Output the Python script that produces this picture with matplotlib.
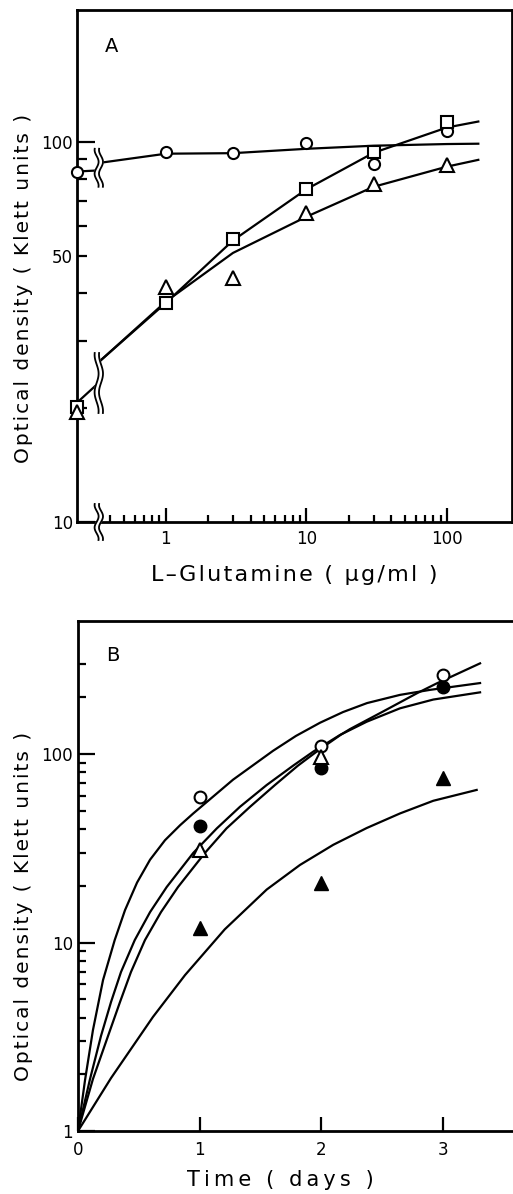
import numpy as np
import matplotlib.pyplot as plt
from matplotlib.ticker import FixedLocator, FixedFormatter, NullFormatter

# ----------------------------------------------------------------------
# Panel A: growth vs L-glutamine concentration
# ----------------------------------------------------------------------
GLN_CONC = [0, 1, 3, 10, 30, 100]
A_CIRCLE = [83, 94, 93.5, 99.5, 87.5, 107]
A_SQUARE = [20.1, 37.7, 55.6, 75.2, 94, 113]
A_TRIANGLE = [19.5, 41.6, 43.8, 65, 77.5, 87]

# hand-drawn curves, right of the axis break
A_FIT_X = [0.339, 1, 3, 10, 30, 100, 167]
A_CIRCLE_FIT = [88, 93, 93.3, 95.8, 97.6, 98.6, 98.8]
A_SQUARE_FIT = [26.5, 37.7, 55, 75, 93.5, 109, 113]
A_TRIANGLE_FIT = [26.5, 38, 51, 63.5, 76.1, 86, 89.6]
# short pieces left of the break
A_LEFT_X = [0, 0.323]
A_CIRCLE_LEFT = [83.5, 84]
A_SQUARE_LEFT = [20.6, 23]

A_XLIM = (0.233, 290)
A_YLIM = (10, 222)
A_BREAK_X = 0.333

# ----------------------------------------------------------------------
# Panel B: growth vs time
# ----------------------------------------------------------------------
DAYS = [1, 2, 3]
B_OPEN_CIRCLE = [59, 110, 262]
B_FILLED_CIRCLE = [41.5, 84, 227]
B_OPEN_TRI_DAYS = [1, 2]
B_OPEN_TRIANGLE = [31, 96]
B_FILLED_TRIANGLE = [11.9, 20.7, 74.6]

# hand-drawn growth curves
B_CURVE_A_T = [0, 0.058, 0.123, 0.206, 0.302, 0.387, 0.486, 0.593, 0.716, 0.84,
               0.947, 1.276, 1.605, 1.794, 1.992, 2.181, 2.379, 2.65, 2.897, 3.309]
B_CURVE_A = [1, 1.865, 3.43, 6.32, 10.3, 14.86, 20.8, 27.5, 34.9, 41.9,
             48.3, 73.1, 104, 124.8, 146.6, 167, 186.4, 206, 219, 238]
B_CURVE_B_T = [0, 0.099, 0.189, 0.272, 0.354, 0.467, 0.593, 0.73, 0.949, 1.142,
               1.333, 1.553, 1.772, 1.937, 2.156, 2.376, 2.65, 2.924, 3.309]
B_CURVE_B = [1, 1.887, 3.19, 4.84, 6.98, 10.3, 14.5, 19.7, 29.9, 40.3,
             52.5, 68.5, 86.9, 103.1, 126.2, 148.4, 174.8, 194.6, 212.5]
B_CURVE_C_T = [0, 0.123, 0.247, 0.346, 0.436, 0.551, 0.683, 0.823, 1.045, 1.222,
               1.416, 1.621, 1.811, 1.965, 2.165, 2.239, 2.513, 2.788, 2.952, 3.309]
B_CURVE_C = [1, 1.887, 3.19, 4.84, 6.98, 10.3, 14.5, 19.7, 29.9, 40.3,
             52.5, 68.5, 86.9, 103.1, 126.9, 135.7, 168.5, 209.9, 237, 302.8]
B_CURVE_D_T = [0, 0.272, 0.617, 0.881, 1.208, 1.553, 1.827, 2.101, 2.376,
               2.65, 2.924, 3.281]
B_CURVE_D = [1, 1.91, 4.03, 6.72, 11.75, 19.1, 25.8, 33.0, 40.5,
             48.4, 56.5, 64.5]

B_XLIM = (0, 3.58)
B_YLIM = (1, 508)

LW = 1.6
OPEN = dict(color="black", markerfacecolor="white", markeredgecolor="black",
            markeredgewidth=1.5, linestyle="none", clip_on=False, zorder=6)
FILLED = dict(color="black", linestyle="none", clip_on=False, zorder=6)

HAIR = "\u200a"
THIN = "\u2009"


def spaced(text, gap=HAIR):
    """Wide letter spacing like the old stencil lettering."""
    return gap.join(text)


def draw_break(ax, x, y, half_px):
    """Two wavy strokes with white between them, centred on (x, y)."""
    cx, cy = ax.transData.transform((x, y))
    t = np.linspace(-1, 1, 60)
    ys = cy + t * half_px
    wave = 2.0 * np.sin(t * np.pi * 1.6)
    inv = ax.transAxes.inverted()
    left = inv.transform(np.column_stack([cx - 2.2 + wave, ys]))
    right = inv.transform(np.column_stack([cx + 2.2 + wave, ys]))
    poly = np.vstack([left, right[::-1]])
    ax.fill(poly[:, 0], poly[:, 1], color="white", transform=ax.transAxes,
            clip_on=False, zorder=7)
    for p in (left, right):
        ax.plot(p[:, 0], p[:, 1], color="black", lw=1.3, transform=ax.transAxes,
                clip_on=False, zorder=8)


def style_spines(ax, right=True):
    for side in ("left", "bottom", "top", "right"):
        ax.spines[side].set_linewidth(2.0)
    ax.spines["right"].set_visible(right)


def main() -> None:
    fig = plt.figure(figsize=(5.13, 11.94), dpi=100)
    ylabel = spaced("Optical density ( Klett units )")

    # ---------------- Panel A ----------------
    ax = fig.add_axes([77 / 513, 1 - 522 / 1194, 435 / 513, 512 / 1194])
    ax.set_xscale("log")
    ax.set_yscale("log")
    ax.set_xlim(*A_XLIM)
    ax.set_ylim(*A_YLIM)
    style_spines(ax)

    x_plot = [A_XLIM[0] if c == 0 else c for c in GLN_CONC]
    x_left = [A_XLIM[0] if c == 0 else c for c in A_LEFT_X]

    ax.plot(A_FIT_X, A_CIRCLE_FIT, color="black", lw=LW)
    ax.plot(A_FIT_X, A_SQUARE_FIT, color="black", lw=LW)
    ax.plot(A_FIT_X, A_TRIANGLE_FIT, color="black", lw=LW)
    ax.plot(x_left, A_CIRCLE_LEFT, color="black", lw=LW, clip_on=False)
    ax.plot(x_left, A_SQUARE_LEFT, color="black", lw=LW, clip_on=False)

    ax.plot(x_plot, A_CIRCLE, marker="o", markersize=8, **OPEN)
    ax.plot(x_plot, A_SQUARE, marker="s", markersize=9, **OPEN)
    ax.plot(x_plot, A_TRIANGLE, marker="^", markersize=10, **OPEN)

    ax.xaxis.set_major_locator(FixedLocator([1, 10, 100]))
    ax.xaxis.set_major_formatter(FixedFormatter(["1", "10", "100"]))
    ax.xaxis.set_minor_locator(FixedLocator(
        [0.4, 0.5, 0.6, 0.7, 0.8, 0.9, 2, 3, 4, 5, 6, 7, 8, 9,
         20, 30, 40, 50, 60, 70, 80, 90]))
    ax.xaxis.set_minor_formatter(NullFormatter())
    ax.yaxis.set_major_locator(FixedLocator([10, 100]))
    ax.yaxis.set_major_formatter(FixedFormatter(["10", "100"]))
    ax.yaxis.set_minor_locator(FixedLocator([20, 30, 40, 50, 60, 70, 80, 90]))
    ax.yaxis.set_minor_formatter(FixedFormatter(["", "", "", "50", "", "", "", ""]))

    ax.tick_params(which="both", direction="in", top=False, right=False,
                   width=1.6, labelsize=12)
    ax.tick_params(axis="x", which="major", length=10, pad=6)
    ax.tick_params(axis="x", which="minor", length=5)
    ax.tick_params(axis="y", which="major", length=13, pad=3)
    ax.tick_params(axis="y", which="minor", length=7, pad=3)

    ax.set_xlabel(spaced("L\u2013Glutamine ( \u03bcg/ml )"), fontsize=16)
    ax.xaxis.set_label_coords(0.5, -0.084)
    ax.set_ylabel(ylabel, fontsize=14.5)
    ax.yaxis.set_label_coords(-0.101, 0.457)
    ax.text(0.08, 0.928, "A", transform=ax.transAxes, fontsize=14,
            ha="center", va="center")

    draw_break(ax, A_BREAK_X, 85.4, 19)
    draw_break(ax, A_BREAK_X, 23.2, 30)
    draw_break(ax, A_BREAK_X, 10.0, 18)

    # ---------------- Panel B ----------------
    bx = fig.add_axes([78 / 513, 1 - 1131 / 1194, 435 / 513, 510 / 1194])
    bx.set_yscale("log")
    bx.set_xlim(*B_XLIM)
    bx.set_ylim(*B_YLIM)
    style_spines(bx, right=False)

    for t, v in ((B_CURVE_A_T, B_CURVE_A), (B_CURVE_B_T, B_CURVE_B),
                 (B_CURVE_C_T, B_CURVE_C), (B_CURVE_D_T, B_CURVE_D)):
        bx.plot(t, v, color="black", lw=LW, solid_joinstyle="round")

    bx.plot(DAYS, B_OPEN_CIRCLE, marker="o", markersize=8.5, **OPEN)
    bx.plot(DAYS, B_FILLED_CIRCLE, marker="o", markersize=9, **FILLED)
    bx.plot(B_OPEN_TRI_DAYS, B_OPEN_TRIANGLE, marker="^", markersize=10, **OPEN)
    bx.plot(DAYS, B_FILLED_TRIANGLE, marker="^", markersize=10, **FILLED)

    bx.xaxis.set_major_locator(FixedLocator([0, 1, 2, 3]))
    bx.xaxis.set_major_formatter(FixedFormatter(["0", "1", "2", "3"]))
    bx.yaxis.set_major_locator(FixedLocator([1, 10, 100]))
    bx.yaxis.set_major_formatter(FixedFormatter(["1", "10", "100"]))
    bx.yaxis.set_minor_locator(FixedLocator(
        [2, 3, 4, 5, 6, 7, 8, 9, 20, 30, 40, 50, 60, 70, 80, 90, 200, 300]))
    bx.yaxis.set_minor_formatter(NullFormatter())

    bx.tick_params(which="both", direction="in", top=False, right=False,
                   width=1.6, labelsize=12)
    bx.tick_params(axis="x", which="major", length=10, pad=7)
    bx.tick_params(axis="y", which="major", length=12, pad=3.5)
    bx.tick_params(axis="y", which="minor", length=6)

    bx.set_xlabel(spaced("Time ( days )", THIN), fontsize=15)
    bx.xaxis.set_label_coords(0.465, -0.076)
    bx.set_ylabel(ylabel, fontsize=14.5)
    bx.yaxis.set_label_coords(-0.103, 0.441)
    bx.text(0.08, 0.933, "B", transform=bx.transAxes, fontsize=14,
            ha="center", va="center")

    fig.savefig("out.png", dpi=100)


if __name__ == "__main__":
    main()
